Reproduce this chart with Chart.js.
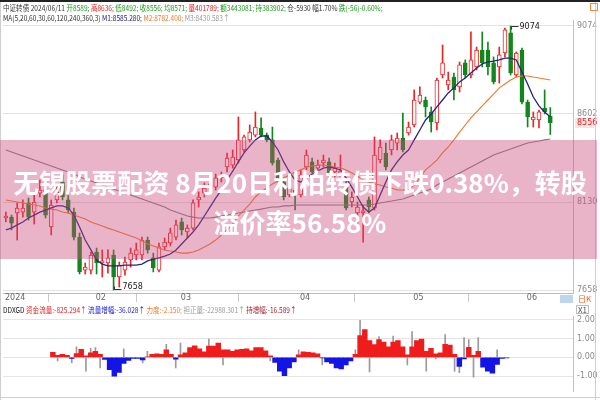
<!DOCTYPE html>
<html><head><meta charset="utf-8">
<script src="https://cdn.jsdelivr.net/npm/chart.js@4.4.1/dist/chart.umd.min.js"></script>
<style>
html,body{margin:0;padding:0;background:#fff;}
#wrap{position:relative;width:600px;height:400px;overflow:hidden;background:#fff;font-family:"Noto Sans CJK SC","DejaVu Sans",sans-serif;}
#topline{position:absolute;left:0;top:0;width:600px;height:2px;background:#222;}
#c1box{position:absolute;left:0;top:0;width:600px;height:302px;}
#c2box{position:absolute;left:0;top:302px;width:600px;height:98px;}
.hdr{position:absolute;left:3px;font-size:8px;white-space:nowrap;line-height:10px;font-family:"Noto Sans CJK SC","DejaVu Sans",sans-serif;}
.sq{transform:scaleX(0.82);transform-origin:0 0;}
#band{position:absolute;left:0;top:140px;width:597px;height:119px;background:rgba(205,76,125,0.42);}
#title{position:absolute;left:0;top:162px;width:600px;color:#fff;font-weight:bold;font-size:26px;text-align:center;font-family:"Noto Sans CJK SC",sans-serif;line-height:40px;white-space:nowrap;}
.vline{position:absolute;width:1px;background:#cfcfcf;}
.hline{position:absolute;height:1px;background:#cfcfcf;}
</style></head>
<body>
<div id="wrap">
  <div id="c1box"><canvas id="c1" width="600" height="302"></canvas></div>
  <div id="c2box"><canvas id="c2" width="600" height="98"></canvas></div>
  <div id="topline"></div>
  <div class="vline" style="left:0;top:2px;height:398px;"></div>
  <div class="vline" style="left:595px;top:2px;height:398px;"></div>
  <div class="hline" style="left:0;top:397px;width:600px;"></div>
  <div style="position:absolute;left:590px;top:3px;width:6px;height:6px;border:1px solid #f08a3a;"></div>
  <div style="position:absolute;left:560px;top:295px;width:13px;height:8px;background:#bcd6ee;"></div>
  <div class="hdr" style="left:578px;top:294px;color:#e8632a;">日K</div>
  <div class="hdr" style="left:576px;top:305px;color:#555;border:1px solid #bbb;line-height:7px;padding:0 1px;">X1</div>
  <div class="hdr sq" style="top:3px;">
    <span style="color:#333">中证转债 2024/06/11</span>
    <span style="color:#1a9a1a">开8589;</span>
    <span style="color:#e02020">高8636;</span>
    <span style="color:#1a9a1a">低8492;</span>
    <span style="color:#1a9a1a">收8556;</span>
    <span style="color:#1a9a1a">均8571;</span>
    <span style="color:#e02020">量401789;</span>
    <span style="color:#1a9a1a">额3443081;</span>
    <span style="color:#1a9a1a">持383902;</span>
    <span style="color:#333">仓-5930 幅1.70%</span>
    <span style="color:#1a9a1a">跌(-56)-0.60%;</span>
  </div>
  <div class="hdr sq" style="top:13px;">
    <span style="color:#333">MA(5,20,60,30,60,120,240,360,3)</span>
    <span style="color:#23237e">M1:8585.280;</span>
    <span style="color:#f07a28">M2:8782.400;</span>
    <span style="color:#999">M3:8430.583↑</span>
  </div>
  <div class="hdr sq" style="top:305px;">
    <span style="color:#111">DDXGD</span>
    <span style="color:#e02020">资金流量:-825.294↑</span>
    <span style="color:#2020d0">流量增幅:-36.028↑</span>
    <span style="color:#f07a28">力度:-2.150;</span>
    <span style="color:#999">担正量:-22988.301↑</span>
    <span style="color:#a02030">持增幅:-16.589↑</span>
  </div>
  <div id="band"></div>
  <div id="title">无锡股票配资 8月20日利柏转债下跌0.38%，转股<br>溢价率56.58%</div>
</div>
<script>
// ---- data ----
const candleIdx = Array.from({length: 97}, (_, i) => i);
const monthTicks = [-0.5, 15.5, 30.5, 51.5, 71.5, 91.5];
const monthLabels = ['2024', '02', '03', '04', '05', '06'];
const priceTicks = [7658, 8130, 8602, 9074];
const flowTicks = [-1, 0, 1, 2];

const opens = [8044,8049,8071,8076,8125,8076,8178,8194,7996,8141,8237,8141,8076,7942,7765,7765,7862,7803,7803,7846,7728,7765,7819,7846,7846,7926,7830,7765,7889,7910,7942,8023,7969,7990,8141,8178,8205,8210,8259,8318,8328,8355,8409,8463,8489,8527,8489,8463,8355,8237,8168,8194,8168,8318,8345,8312,8339,8345,8291,8275,8210,8130,8071,8071,8141,8098,8355,8393,8409,8446,8473,8500,8543,8666,8677,8613,8554,8811,8758,8800,8747,8876,8811,8854,8945,8945,8876,8854,8929,9037,8811,8945,8666,8570,8570,8634,8589];
const highs = [8076,8060,8125,8141,8151,8168,8248,8232,8141,8221,8275,8178,8098,7964,7803,7862,7883,7873,7873,7873,7808,7835,7883,7910,7942,7942,7856,7910,7937,7990,8033,8044,8007,8141,8184,8232,8248,8280,8291,8393,8409,8586,8489,8543,8613,8581,8500,8532,8366,8259,8232,8205,8302,8409,8366,8355,8382,8366,8339,8382,8248,8184,8130,8114,8157,8479,8463,8446,8489,8500,8607,8559,8731,8747,8693,8640,8795,8972,8827,8822,8881,8892,9042,8961,9042,8988,8908,8961,9063,9074,8935,8956,8677,8613,8623,8731,8636];
const lows = [8023,7980,7926,8049,8033,8012,8157,8044,7953,8125,8141,8071,7926,7744,7744,7744,7744,7728,7749,7658,7674,7738,7781,7819,7819,7856,7755,7755,7873,7894,7926,7953,7937,7980,8103,8157,8184,8194,8237,8291,8312,8339,8398,8452,8479,8479,8452,8328,8237,8141,8157,8087,8157,8302,8286,8291,8318,8248,8264,8264,8087,8103,7996,7915,8071,8087,8339,8302,8382,8409,8398,8489,8532,8656,8586,8505,8516,8795,8731,8677,8720,8795,8795,8838,8854,8811,8763,8768,8908,8811,8800,8656,8532,8532,8527,8602,8492];
const closes = [8055,8017,8098,8098,8049,8130,8194,8060,8114,8184,8157,8087,7942,7755,7781,7846,7803,7814,7830,7728,7792,7808,7856,7873,7926,7873,7776,7889,7915,7964,8007,7980,7990,8125,8157,8205,8227,8259,8275,8366,8371,8463,8479,8505,8532,8489,8463,8339,8248,8157,8205,8168,8275,8382,8291,8328,8355,8286,8312,8296,8098,8157,8103,8082,8103,8382,8425,8318,8463,8473,8409,8532,8677,8704,8640,8559,8784,8876,8784,8731,8865,8811,8892,8945,8876,8854,8774,8919,9053,8822,8929,8666,8586,8586,8613,8613,8556];

const ma5 = [7980,7990,8007,8023,8044,8060,8076,8087,8098,8109,8109,8098,8060,7996,7926,7873,7819,7797,7787,7787,7787,7792,7792,7792,7797,7814,7824,7830,7840,7851,7873,7905,7937,7969,8007,8055,8103,8151,8194,8248,8296,8345,8393,8430,8463,8484,8484,8452,8409,8345,8291,8248,8237,8259,8280,8296,8312,8318,8312,8302,8259,8210,8157,8103,8076,8098,8168,8237,8302,8345,8382,8409,8463,8516,8570,8602,8640,8677,8715,8742,8774,8795,8822,8849,8870,8881,8886,8892,8902,8902,8892,8827,8763,8693,8645,8613,8586];
const ma20 = [8141,8135,8130,8125,8119,8114,8109,8098,8092,8087,8076,8071,8060,8049,8039,8023,8012,8001,7990,7980,7969,7958,7948,7937,7921,7905,7894,7883,7873,7867,7862,7856,7856,7862,7873,7889,7905,7926,7953,7980,8012,8055,8087,8119,8157,8184,8205,8227,8243,8259,8275,8291,8302,8318,8323,8328,8328,8323,8318,8312,8302,8286,8269,8248,8237,8227,8221,8210,8205,8194,8194,8194,8221,8259,8302,8328,8355,8393,8425,8463,8505,8543,8581,8613,8645,8677,8709,8742,8763,8784,8800,8806,8806,8800,8795,8790,8784];
const ma60 = [8409,8398,8387,8377,8366,8355,8345,8334,8323,8312,8302,8291,8280,8264,8253,8243,8232,8221,8210,8200,8189,8178,8168,8157,8146,8135,8125,8114,8103,8087,8076,8066,8055,8049,8044,8044,8044,8049,8055,8060,8066,8071,8076,8082,8087,8092,8098,8103,8103,8109,8109,8114,8114,8114,8114,8114,8114,8114,8114,8114,8114,8114,8114,8114,8114,8119,8125,8130,8135,8141,8146,8157,8168,8178,8189,8200,8221,8237,8253,8269,8286,8302,8318,8334,8350,8366,8382,8393,8404,8414,8425,8436,8446,8452,8457,8463,8468];

const flow = [0.27,0.11,0.16,0.11,-0.05,0.20,0.43,0.08,0.24,0.32,0.16,-0.11,-0.65,-1.00,-0.80,-0.32,-0.16,-0.05,-0.05,-0.13,0.03,0.16,0.19,0.16,0.40,0.16,-0.10,0.13,0.24,0.52,0.61,0.45,0.29,0.60,0.60,0.76,0.40,0.40,0.32,0.40,0.43,0.45,0.35,0.52,0.52,0.35,0.08,-0.27,-0.73,-0.97,-0.56,-0.24,0.13,0.29,0.27,0.24,0.19,-0.03,-0.24,-0.32,-0.56,-0.61,-0.40,-0.19,0.16,1.16,1.48,0.89,0.68,0.94,0.81,0.56,0.81,0.89,0.56,0.13,0.56,0.89,0.97,0.32,0.48,0.19,0.24,0.69,0.65,0.16,-0.48,-0.08,0.53,0.11,0.32,-0.52,-0.73,-0.84,-0.37,-0.05,-0.03];
const force = [null,-0.19,null,null,-0.29,0.56,null,-0.73,0.48,0.52,-0.56,null,null,null,null,0.45,null,null,null,-0.29,0.32,null,null,null,0.69,null,-0.56,0.76,null,null,null,null,null,0.97,null,null,-0.40,null,null,null,null,null,null,null,null,null,-0.19,null,null,null,null,null,0.40,null,null,null,null,-0.40,null,null,null,null,null,null,0.40,1.97,null,-0.77,null,1.10,null,null,1.13,null,null,-0.40,1.37,null,null,-0.73,null,-0.08,null,1.21,null,-0.73,-0.81,1.05,0.94,-1.05,1.05,null,null,null,0.40,null,null];

// ---- colours ----
const RED = '#ee2222', GREEN = '#12861c';
const isUp = candleIdx.map(i => closes[i] >= opens[i]);

const markerPlugin = {
  id: 'markers',
  afterDatasetsDraw(chart) {
    const {ctx, scales: {x, y}} = chart;
    let hi = 0, lo = 0;
    highs.forEach((v, i) => { if (v > highs[hi]) hi = i; });
    lows.forEach((v, i) => { if (v < lows[lo]) lo = i; });
    ctx.save();
    ctx.font = '8px "DejaVu Sans"';
    ctx.strokeStyle = '#333'; ctx.fillStyle = '#222'; ctx.lineWidth = 1;
    const hx = Math.round(x.getPixelForValue(hi)) + 0.5, hy = Math.round(y.getPixelForValue(highs[hi])) + 0.5;
    ctx.beginPath(); ctx.moveTo(hx, hy + 3); ctx.lineTo(hx, hy); ctx.lineTo(hx + 7, hy); ctx.stroke();
    ctx.textBaseline = 'middle'; ctx.textAlign = 'left';
    ctx.fillText(String(highs[hi]), hx + 8, hy);
    const lx = Math.round(x.getPixelForValue(lo)) + 0.5, ly = Math.round(y.getPixelForValue(lows[lo])) - 0.5;
    ctx.beginPath(); ctx.moveTo(lx, ly - 3); ctx.lineTo(lx, ly); ctx.lineTo(lx + 7, ly); ctx.stroke();
    ctx.fillText(String(lows[lo]), lx + 8, ly - 3);
    ctx.restore();
  },
  afterDraw(chart) {
    const {ctx, scales: {y}} = chart;
    const last = closes[closes.length - 1];
    const py = y.getPixelForValue(last);
    ctx.save();
    ctx.fillStyle = '#fbe4e4';
    ctx.fillRect(575, Math.round(py) - 5, 19, 10);
    ctx.fillStyle = '#e02020';
    ctx.font = '8px "DejaVu Sans"';
    ctx.textBaseline = 'middle'; ctx.textAlign = 'left';
    ctx.fillText(String(last), 577, py);
    ctx.restore();
  }
};

new Chart(document.getElementById('c1'), {
  type: 'bar',
  data: {
    datasets: [
      {type: 'line', label: 'MA5', data: candleIdx.map(i => ({x: i, y: ma5[i]})), borderColor: '#23237e', borderWidth: 1.3, pointRadius: 0, order: 1},
      {type: 'line', label: 'MA20', data: candleIdx.map(i => ({x: i, y: ma20[i]})), borderColor: '#f07a28', borderWidth: 1.1, pointRadius: 0, order: 1},
      {type: 'line', label: 'MA60', data: candleIdx.map(i => ({x: i, y: ma60[i]})), borderColor: '#808080', borderWidth: 1.1, pointRadius: 0, order: 1},
      {label: 'body', data: candleIdx.map(i => ({x: i, y: [opens[i], closes[i]]})),
       backgroundColor: candleIdx.map(i => isUp[i] ? '#ffffff' : GREEN),
       borderColor: candleIdx.map(i => isUp[i] ? RED : GREEN),
       borderWidth: 1, borderSkipped: false, barThickness: 4, grouped: false, minBarLength: 1, order: 2},
      {label: 'wick', data: candleIdx.map(i => ({x: i, y: [lows[i], highs[i]]})),
       backgroundColor: candleIdx.map(i => isUp[i] ? RED : GREEN),
       borderWidth: 0, barThickness: 1, grouped: false, order: 3}
    ]
  },
  options: {
    responsive: false, animation: false, devicePixelRatio: 1,
    layout: {padding: {left: 3, right: 2, top: 20, bottom: 0}},
    plugins: {legend: {display: false}, tooltip: {enabled: false}},
    scales: {
      x: {type: 'linear', min: -0.5, max: 100, offset: false,
        afterBuildTicks: s => { s.ticks = monthTicks.map(v => ({value: v})); },
        afterFit: s => { s.height = 9; },
        grid: {drawOnChartArea: false, drawTicks: true, tickLength: 9, color: '#c8c8c8'},
        border: {display: true, color: '#bdbdbd'},
        ticks: {autoSkip: false, maxRotation: 0, align: 'start', labelOffset: 2, padding: -9,
          font: {size: 8, family: 'DejaVu Sans'}, color: '#666',
          callback: v => { const k = monthTicks.indexOf(v); return k >= 0 ? monthLabels[k] : ''; }}
      },
      y: {position: 'right', min: 7642, max: 9106,
        afterBuildTicks: s => { s.ticks = priceTicks.map(v => ({value: v})); },
        afterFit: s => { s.width = 25; },
        grid: {color: '#e2e2e2', drawTicks: false},
        border: {display: true, color: '#c0c0c0'},
        ticks: {padding: 4, font: {size: 8, family: 'DejaVu Sans'}, color: '#8a8a8a', callback: v => String(v)}
      }
    }
  },
  plugins: [markerPlugin]
});

new Chart(document.getElementById('c2'), {
  type: 'bar',
  data: {
    datasets: [
      {label: 'flow', data: candleIdx.map(i => ({x: i, y: flow[i]})),
       backgroundColor: flow.map(v => v >= 0 ? '#f01c1c' : '#1414e6'),
       barThickness: 4.8, grouped: false, order: 1},
      {label: 'force', data: candleIdx.map(i => ({x: i, y: force[i]})),
       backgroundColor: '#9a9a9a', barThickness: 1, grouped: false, order: 2}
    ]
  },
  options: {
    responsive: false, animation: false, devicePixelRatio: 1,
    layout: {padding: {left: 3, right: 2, top: 14, bottom: 4}},
    plugins: {legend: {display: false}, tooltip: {enabled: false}},
    scales: {
      x: {type: 'linear', min: -0.5, max: 100, display: false},
      y: {position: 'right', min: -1.8, max: 2.2,
        afterBuildTicks: s => { s.ticks = flowTicks.map(v => ({value: v})); },
        afterFit: s => { s.width = 25; },
        grid: {color: '#e4e4e4', drawTicks: false},
        border: {display: true, color: '#c0c0c0'},
        ticks: {padding: 4, font: {size: 8, family: 'DejaVu Sans'}, color: '#8a8a8a', callback: v => Number(v).toFixed(2)}
      }
    }
  }
});
</script>
</body></html>
